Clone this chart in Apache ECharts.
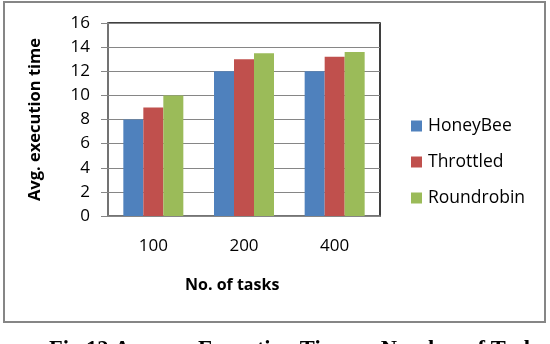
<!DOCTYPE html>
<html>
<head>
<meta charset="utf-8">
<script src="https://cdn.jsdelivr.net/npm/echarts@6/dist/echarts.min.js"></script>
<style>
html,body{margin:0;padding:0;background:#fff;}
#c{width:550px;height:344px;}
</style>
</head>
<body>
<div id="c"></div>
<script>
var categories = ['100', '200', '400'];
var honeyBee = [8, 12, 12];
var throttled = [9, 13, 13.2];
var roundRobin = [10, 13.5, 13.6];
var seriesNames = ['HoneyBee', 'Throttled', 'Roundrobin'];
var colors = ['#4f81bd', '#c0504d', '#9bbb59'];

var FONT = 'Open Sans';
var chart = echarts.init(document.getElementById('c'), null, {renderer: 'canvas'});
var gridL = 108, gridT = 23, gridW = 272, gridH = 193;
chart.setOption({
  animation: false,
  backgroundColor: '#fff',
  color: colors,
  grid: {left: gridL, top: gridT, width: gridW, height: gridH, show: true, borderColor: '#000', borderWidth: 1.5, backgroundColor: 'transparent'},
  legend: {
    orient: 'vertical', left: 406, top: 109, itemWidth: 11, itemHeight: 11, itemGap: 12,
    icon: 'rect',
    textStyle: {fontFamily: FONT, fontSize: 17.5, color: '#000', padding: [0, 0, 0, 1], lineHeight: 24},
    data: seriesNames
  },
  xAxis: {
    type: 'category', data: categories,
    axisLine: {lineStyle: {color: '#868686', width: 1.5}},
    axisTick: {show: false},
    axisLabel: {fontFamily: FONT, fontSize: 17, color: '#000', margin: 22}
  },
  yAxis: {
    type: 'value', min: 0, max: 16, interval: 2,
    name: 'Avg. execution time', nameLocation: 'middle', nameGap: 64,
    nameTextStyle: {fontFamily: FONT, fontSize: 16.5, fontWeight: 'bold', color: '#000'},
    axisLine: {show: true, lineStyle: {color: '#868686', width: 1.5}},
    axisTick: {show: true, length: 7, lineStyle: {color: '#868686'}},
    axisLabel: {fontFamily: FONT, fontSize: 17, color: '#000', margin: 18},
    splitLine: {lineStyle: {color: '#868686', width: 1}}
  },
  series: [
    {name: seriesNames[0], type: 'bar', data: honeyBee, barWidth: 20, barGap: '0%'},
    {name: seriesNames[1], type: 'bar', data: throttled, barWidth: 20, barGap: '0%'},
    {name: seriesNames[2], type: 'bar', data: roundRobin, barWidth: 20, barGap: '0%'}
  ],
  graphic: [
    {type: 'rect', shape: {x: 4, y: 2, width: 541, height: 320}, style: {fill: 'none', stroke: '#868686', lineWidth: 2}, z: -1},
    {type: 'text', left: 185, top: 277, style: {text: 'No. of tasks', font: 'bold 16px "Open Sans"', fill: '#000'}},
    {type: 'text', x: 297, y: 339, style: {text: 'Fig.12 Average Execution Time vs Number of Tasks', font: 'bold 22.5px "Liberation Serif"', fill: '#000', textAlign: 'center', textVerticalAlign: 'top'}}
  ]
});
</script>
</body>
</html>
